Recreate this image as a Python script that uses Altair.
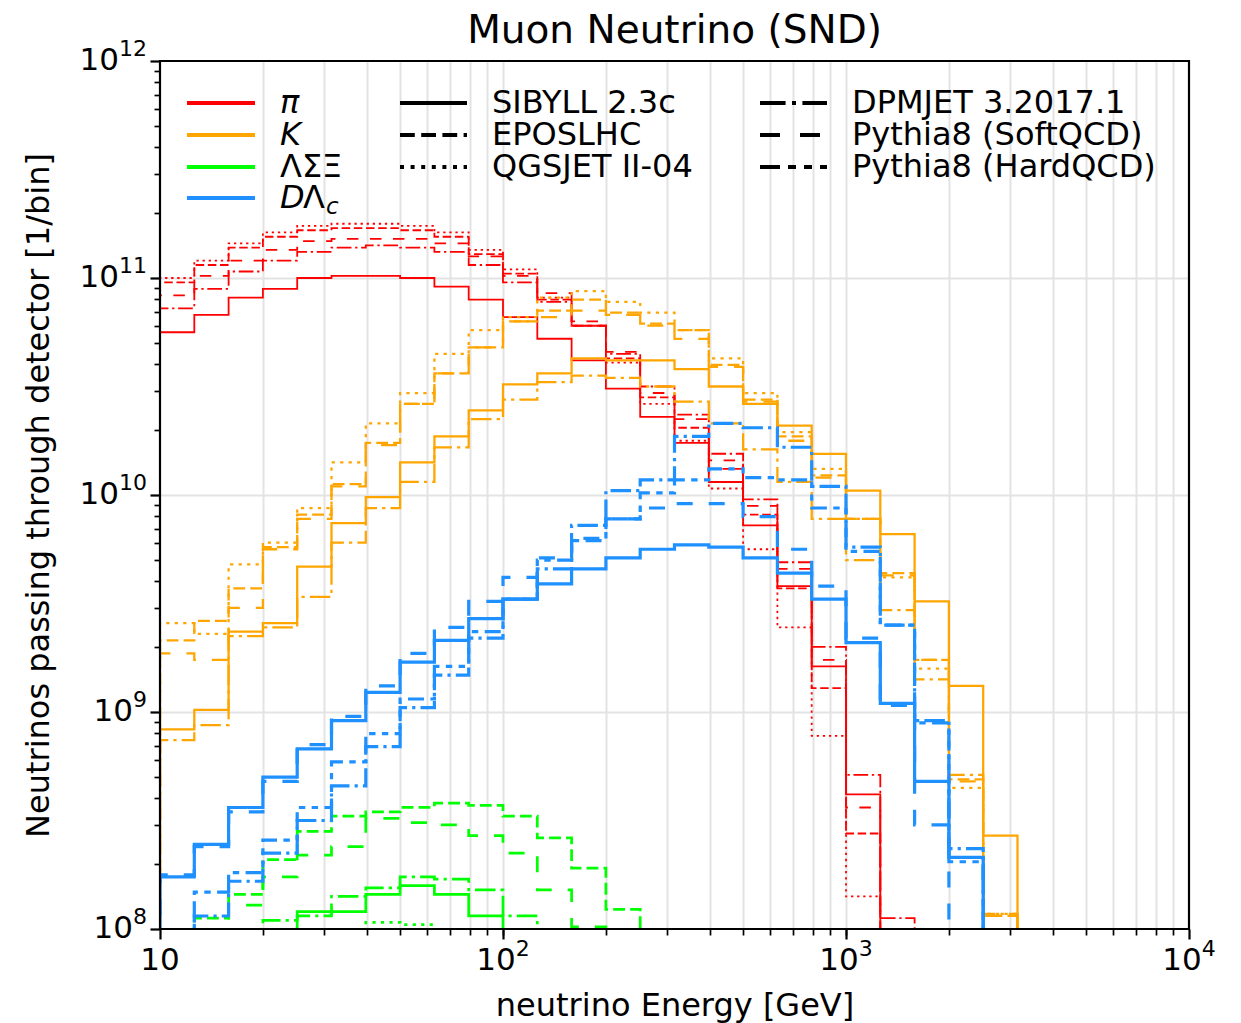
import altair as alt
import pandas as pd

N = None
# histogram bin edges: 10 bins per decade starting at 10 GeV
EDGES = [10 ** (1 + k / 10) for k in range(31)]

PARTICLES = ["π", "K", "ΛΣΞ", "DΛc"]
COLORS = ["#ff0000", "#ffa500", "#00ff00", "#1e90ff"]
GENERATORS = ["SIBYLL 2.3c", "EPOSLHC", "QGSJET II-04",
              "DPMJET 3.2017.1", "Pythia8 (SoftQCD)", "Pythia8 (HardQCD)"]
TITLE = "Muon Neutrino (SND)"

# log10(neutrinos per bin), one entry per energy bin
PI_SIBYLL = [10.75, 10.83, 10.91, 10.95, 11.00, 11.01, 11.01, 11.00, 10.96, 10.90, 10.82, 10.72, 10.62, 10.49, 10.36, 10.24, 10.06, 9.86, 9.58, 9.21, 8.62]
PI_EPOS = [10.98, 11.06, 11.14, 11.19, 11.22, 11.23, 11.23, 11.22, 11.19, 11.11, 11.02, 10.90, 10.78, 10.63, 10.45, 10.31, 10.12, 9.91, 9.57, 9.11, 8.44]
PI_QGSJET = [11.00, 11.08, 11.16, 11.21, 11.24, 11.25, 11.25, 11.24, 11.21, 11.13, 11.04, 10.91, 10.78, 10.61, 10.42, 10.25, 10.03, 9.75, 9.39, 8.89, 8.15]
PI_DPMJET = [10.86, 10.95, 11.03, 11.08, 11.12, 11.14, 11.15, 11.14, 11.12, 11.06, 10.98, 10.89, 10.78, 10.65, 10.50, 10.37, 10.19, 9.98, 9.69, 9.30, 8.71, 8.05]
PI_PYSOFT = [10.92, 11.01, 11.08, 11.13, 11.17, 11.18, 11.18, 11.18, 11.16, 11.10, 11.01, 10.93, 10.80, 10.66, 10.47, 10.35, 10.16, 9.95, 9.66, 9.24, 8.56]

K_SIBYLL = [8.92, 9.01, 9.37, 9.41, 9.67, 9.87, 9.99, 10.15, 10.27, 10.39, 10.51, 10.56, 10.63, 10.62, 10.62, 10.58, 10.50, 10.42, 10.32, 10.19, 10.02, 9.82, 9.51, 9.12, 8.43]
K_EPOS = [9.33, 9.42, 9.57, 9.76, 9.91, 10.05, 10.24, 10.42, 10.56, 10.68, 10.80, 10.85, 10.90, 10.84, 10.79, 10.76, 10.60, 10.44, 10.27, 10.09, 9.89, 9.64, 9.24, 8.69, 8.06]
K_QGSJET = [9.41, 9.36, 9.68, 9.78, 9.94, 10.15, 10.33, 10.47, 10.65, 10.76, 10.82, 10.91, 10.94, 10.89, 10.84, 10.76, 10.63, 10.47, 10.29, 10.12, 9.89, 9.62, 9.20, 8.65, 8.07]
K_DPMJET = [8.87, 8.94, 9.35, 9.39, 9.53, 9.78, 9.94, 10.06, 10.22, 10.35, 10.44, 10.52, 10.55, 10.54, 10.50, 10.43, 10.33, 10.21, 10.06, 9.89, 9.70, 9.47, 9.15, 8.71, 8.07]
K_PYSOFT = [9.27, 9.24, 9.48, 9.75, 9.89, 10.04, 10.23, 10.42, 10.56, 10.68, 10.80, 10.82, 10.85, 10.83, 10.78, 10.72, 10.59, 10.43, 10.25, 10.08, 9.89, 9.63, 9.24, 8.68, 8.06]

L_SIBYLL = [N, N, N, N, 8.08, 8.08, 8.16, 8.20, 8.16, 8.06]
L_EPOS = [N, 8.05, 8.16, 8.32, 8.45, 8.52, 8.54, 8.56, 8.58, 8.57, 8.52, 8.42, 8.28, 8.09]
L_QGSJET = [N, N, N, N, N, N, 8.03, 8.02]
L_DPMJET = [N, N, N, 8.04, 8.06, 8.15, 8.19, 8.24, 8.23, 8.18, 8.06]
L_PYSOFT = [N, N, 8.11, 8.24, 8.34, 8.38, 8.51, 8.49, 8.48, 8.43, 8.35, 8.18, 8.01]

D_SIBYLL = [8.24, 8.39, 8.56, 8.70, 8.83, 8.96, 9.09, 9.23, 9.33, 9.43, 9.52, 9.59, 9.66, 9.71, 9.75, 9.77, 9.76, 9.71, 9.64, 9.52, 9.32, 9.04, 8.68, 8.33]
D_DPMJET = [N, 8.06, 8.22, 8.35, 8.50, 8.66, 8.84, 9.02, 9.17, 9.34, 9.52, 9.66, 9.86, 10.02, 10.07, 10.27, 10.33, 10.31, 10.22, 10.04, 9.76, 9.40, 8.96, 8.37]
D_PYSOFT = [8.25, 8.38, 8.54, 8.68, 8.85, 8.98, 9.12, 9.27, 9.39, 9.51, 9.62, 9.71, 9.80, 9.89, 9.94, 9.96, 9.96, 9.90, 9.75, 9.58, 9.34, 9.03, 8.48]
D_PYHARD = [N, 8.17, 8.26, 8.41, 8.56, 8.77, 8.90, 9.06, 9.21, 9.37, 9.52, 9.70, 9.79, 9.89, 10.01, 10.07, 10.12, 10.08, 10.07, 9.94, 9.74, 9.40, 8.95, 8.31]

SERIES = [
    ("π", "SIBYLL 2.3c", PI_SIBYLL), ("π", "EPOSLHC", PI_EPOS), ("π", "QGSJET II-04", PI_QGSJET),
    ("π", "DPMJET 3.2017.1", PI_DPMJET), ("π", "Pythia8 (SoftQCD)", PI_PYSOFT),
    ("K", "SIBYLL 2.3c", K_SIBYLL), ("K", "EPOSLHC", K_EPOS), ("K", "QGSJET II-04", K_QGSJET),
    ("K", "DPMJET 3.2017.1", K_DPMJET), ("K", "Pythia8 (SoftQCD)", K_PYSOFT),
    ("ΛΣΞ", "SIBYLL 2.3c", L_SIBYLL), ("ΛΣΞ", "EPOSLHC", L_EPOS), ("ΛΣΞ", "QGSJET II-04", L_QGSJET),
    ("ΛΣΞ", "DPMJET 3.2017.1", L_DPMJET), ("ΛΣΞ", "Pythia8 (SoftQCD)", L_PYSOFT),
    ("DΛc", "SIBYLL 2.3c", D_SIBYLL), ("DΛc", "DPMJET 3.2017.1", D_DPMJET),
    ("DΛc", "Pythia8 (SoftQCD)", D_PYSOFT), ("DΛc", "Pythia8 (HardQCD)", D_PYHARD),
]

# tick labels
X_TICKS = [10, 100, 1000, 10000]
X_EXP = ["", "2", "3", "4"]
Y_TICKS = [1e8, 1e9, 1e10, 1e11, 1e12]
Y_EXP = ["8", "9", "10", "11", "12"]
X_MINOR = [m * 10 ** e for e in (1, 2, 3) for m in range(2, 10)]
Y_MINOR = [m * 10 ** e for e in (8, 9, 10, 11) for m in range(2, 10)]

# dash patterns in units of line width (matplotlib-like)
BASE_DASH = {
    "SIBYLL 2.3c": [1, 0],
    "EPOSLHC": [3.7, 1.6],
    "QGSJET II-04": [1, 1.65],
    "DPMJET 3.2017.1": [6.4, 1.6, 1, 1.6],
    "Pythia8 (SoftQCD)": [5, 5],
    "Pythia8 (HardQCD)": [5, 2, 2, 2, 2, 2],
}
DASH_SCALE = {"thin": 2.3, "thick": 3.2}
DASH_KEYS, DASH_RANGE = [], []
for g in GENERATORS:
    for w, f in DASH_SCALE.items():
        DASH_KEYS.append(g + "|" + w)
        DASH_RANGE.append([round(v * f, 2) for v in BASE_DASH[g]])

TINY = 1e6
rows = []
for sid, (part, gen, logs) in enumerate(SERIES):
    vals = [TINY if v is None else 10 ** v for v in logs]
    n = len(vals)
    pts = [(EDGES[0], TINY)] + [(EDGES[i], vals[i]) for i in range(n)] + [(EDGES[n], vals[-1]), (EDGES[n], TINY)]
    width = "thin" if part == "π" else "thick"
    for j, (x, y) in enumerate(pts):
        rows.append({"series": sid, "particle": part, "gen": gen, "key": gen + "|" + width,
                     "x": x, "y": y, "idx": j})
df = pd.DataFrame(rows)

W, H = 1029, 868
FONT = "DejaVu Sans"
xscale = alt.Scale(type="log", domain=[10, 10000], nice=False)
yscale = alt.Scale(type="log", domain=[1e8, 1e12], nice=False)
GRID = "#e3e3e3"

x_major = alt.Axis(
    orient="bottom", values=X_TICKS, labels=False,
    tickSize=10, tickWidth=2.2, tickColor="black", domain=False, grid=False,
    title="neutrino Energy [GeV]", titleFont=FONT, titleFontSize=32, titleFontWeight="normal",
    titleColor="black", titleY=61, titleBaseline="top",
)
y_major = alt.Axis(
    orient="left", values=Y_TICKS, labels=False,
    tickSize=10, tickWidth=2.2, tickColor="black", domain=False, grid=False,
    title="Neutrinos passing through detector [1/bin]", titleFont=FONT, titleFontSize=32,
    titleFontWeight="normal", titleColor="black", titleX=-105, titleY=434,
    titleAlign="center", titleBaseline="bottom", titleAngle=270,
)

lines = alt.Chart(df).mark_line(interpolate="step-after", clip=True, strokeCap="butt", strokeJoin="miter").encode(
    x=alt.X("x:Q", scale=xscale, axis=x_major),
    y=alt.Y("y:Q", scale=yscale, axis=y_major),
    color=alt.Color("particle:N", scale=alt.Scale(domain=PARTICLES, range=COLORS), legend=None),
    strokeDash=alt.StrokeDash("key:N", scale=alt.Scale(domain=DASH_KEYS, range=DASH_RANGE), legend=None),
    strokeWidth=alt.StrokeWidth("particle:N", scale=alt.Scale(domain=PARTICLES, range=[1.8, 3.2, 3.2, 3.2]), legend=None),
    detail="series:N",
    order="idx:Q",
)

# minor ticks + grid (grid only at interior positions so it does not cover the frame)
k = max(len(X_MINOR), len(Y_MINOR))
minor_df = pd.DataFrame({"x": [X_MINOR[i % len(X_MINOR)] for i in range(k)],
                         "y": [Y_MINOR[i % len(Y_MINOR)] for i in range(k)]})
minor = alt.Chart(minor_df).mark_point(opacity=0).encode(
    x=alt.X("x:Q", scale=xscale, axis=alt.Axis(orient="bottom", values=X_MINOR + X_TICKS[1:3], labels=False,
                                                tickSize=6, tickWidth=1.7, tickColor="black", domain=False,
                                                grid=True, gridColor=GRID, gridWidth=2, title=None)),
    y=alt.Y("y:Q", scale=yscale, axis=alt.Axis(orient="left", values=Y_MINOR, labels=False, tickSize=6,
                                                tickWidth=1.7, tickColor="black", domain=False, grid=False,
                                                title=None)),
)
ygrid = alt.Chart(minor_df).mark_point(opacity=0).encode(
    y=alt.Y("y:Q", scale=yscale, axis=alt.Axis(orient="left", values=Y_TICKS[1:4], labels=False, ticks=False,
                                                domain=False, grid=True, gridColor=GRID, gridWidth=2,
                                                title=None)),
)

# tick labels with real superscripts
S, s = 31, 22
DW, dw = 0.636 * S, 0.636 * s
labels = []
for v, e in zip(X_TICKS, X_EXP):
    w = 2 * DW + len(e) * dw
    d1 = pd.DataFrame({"v": [v]})
    labels.append(alt.Chart(d1).mark_text(text="10", align="left", baseline="middle", dx=-w / 2,
                                          font=FONT, fontSize=S, color="black").encode(
        x=alt.X("v:Q", scale=xscale, axis=None), y=alt.value(H + 32)))
    if e:
        labels.append(alt.Chart(d1).mark_text(text=e, align="left", baseline="middle", dx=-w / 2 + 2 * DW,
                                              font=FONT, fontSize=s, color="black").encode(
            x=alt.X("v:Q", scale=xscale, axis=None), y=alt.value(H + 20)))
for v, e in zip(Y_TICKS, Y_EXP):
    d1 = pd.DataFrame({"v": [v]})
    labels.append(alt.Chart(d1).mark_text(text="10", align="right", baseline="middle",
                                          font=FONT, fontSize=S, color="black").encode(
        x=alt.value(-13 - len(e) * dw), y=alt.Y("v:Q", scale=yscale, axis=None)))
    labels.append(alt.Chart(d1).mark_text(text=e, align="right", baseline="middle", dy=-12,
                                          font=FONT, fontSize=s, color="black").encode(
        x=alt.value(-13), y=alt.Y("v:Q", scale=yscale, axis=None)))

# legend (drawn in plot-pixel coordinates)
one = pd.DataFrame({"a": [0]})
leg = []
ROWS = [42, 74, 106, 137]
for i, (p, c) in enumerate(zip(PARTICLES, COLORS)):
    leg.append(alt.Chart(one).mark_rule(color=c, strokeWidth=4).encode(
        x=alt.value(27), x2=alt.value(95), y=alt.value(ROWS[i])))

def txt(x, y, t, size=32, style="normal", align="left"):
    return alt.Chart(one).mark_text(text=t, align=align, baseline="middle", font=FONT, fontSize=size,
                                    fontStyle=style, color="black").encode(x=alt.value(x), y=alt.value(y))

leg.append(txt(120, ROWS[0], "π", style="italic"))
leg.append(txt(120, ROWS[1], "K", style="italic"))
leg.append(txt(120, ROWS[2], "ΛΣΞ"))
leg.append(txt(120, ROWS[3], "D", style="italic"))
leg.append(txt(143, ROWS[3], "Λ"))
leg.append(txt(166, ROWS[3] + 9, "c", size=23, style="italic"))

for i, g in enumerate(GENERATORS):
    col, row = divmod(i, 3)
    x0 = 240 if col == 0 else 600
    dash = [round(v * 4, 2) for v in BASE_DASH[g]]
    kw = {} if g == "SIBYLL 2.3c" else {"strokeDash": dash}
    leg.append(alt.Chart(one).mark_rule(color="black", strokeWidth=4, strokeCap="butt", **kw).encode(
        x=alt.value(x0), x2=alt.value(x0 + 67), y=alt.value(ROWS[row])))
    leg.append(txt(x0 + 92, ROWS[row], g))

# chart title (placed as text so its position is exact)
title = txt(W / 2, -30, TITLE, size=39, align="center")

frame = alt.Chart(one).mark_rect(fillOpacity=0, stroke="black", strokeWidth=2.2).encode(
    x=alt.value(0), x2=alt.value(W), y=alt.value(0), y2=alt.value(H))

chart = alt.layer(lines, minor, ygrid, *labels, *leg, title, frame).resolve_axis(
    x="independent", y="independent").properties(
    width=W, height=H,
    autosize=alt.AutoSizeParams(type="none"),
    padding={"left": 160, "top": 61, "right": 52, "bottom": 94},
    background="white",
).configure_view(strokeWidth=0)

chart.save("out.html", embed_options={"renderer": "svg", "actions": False})
